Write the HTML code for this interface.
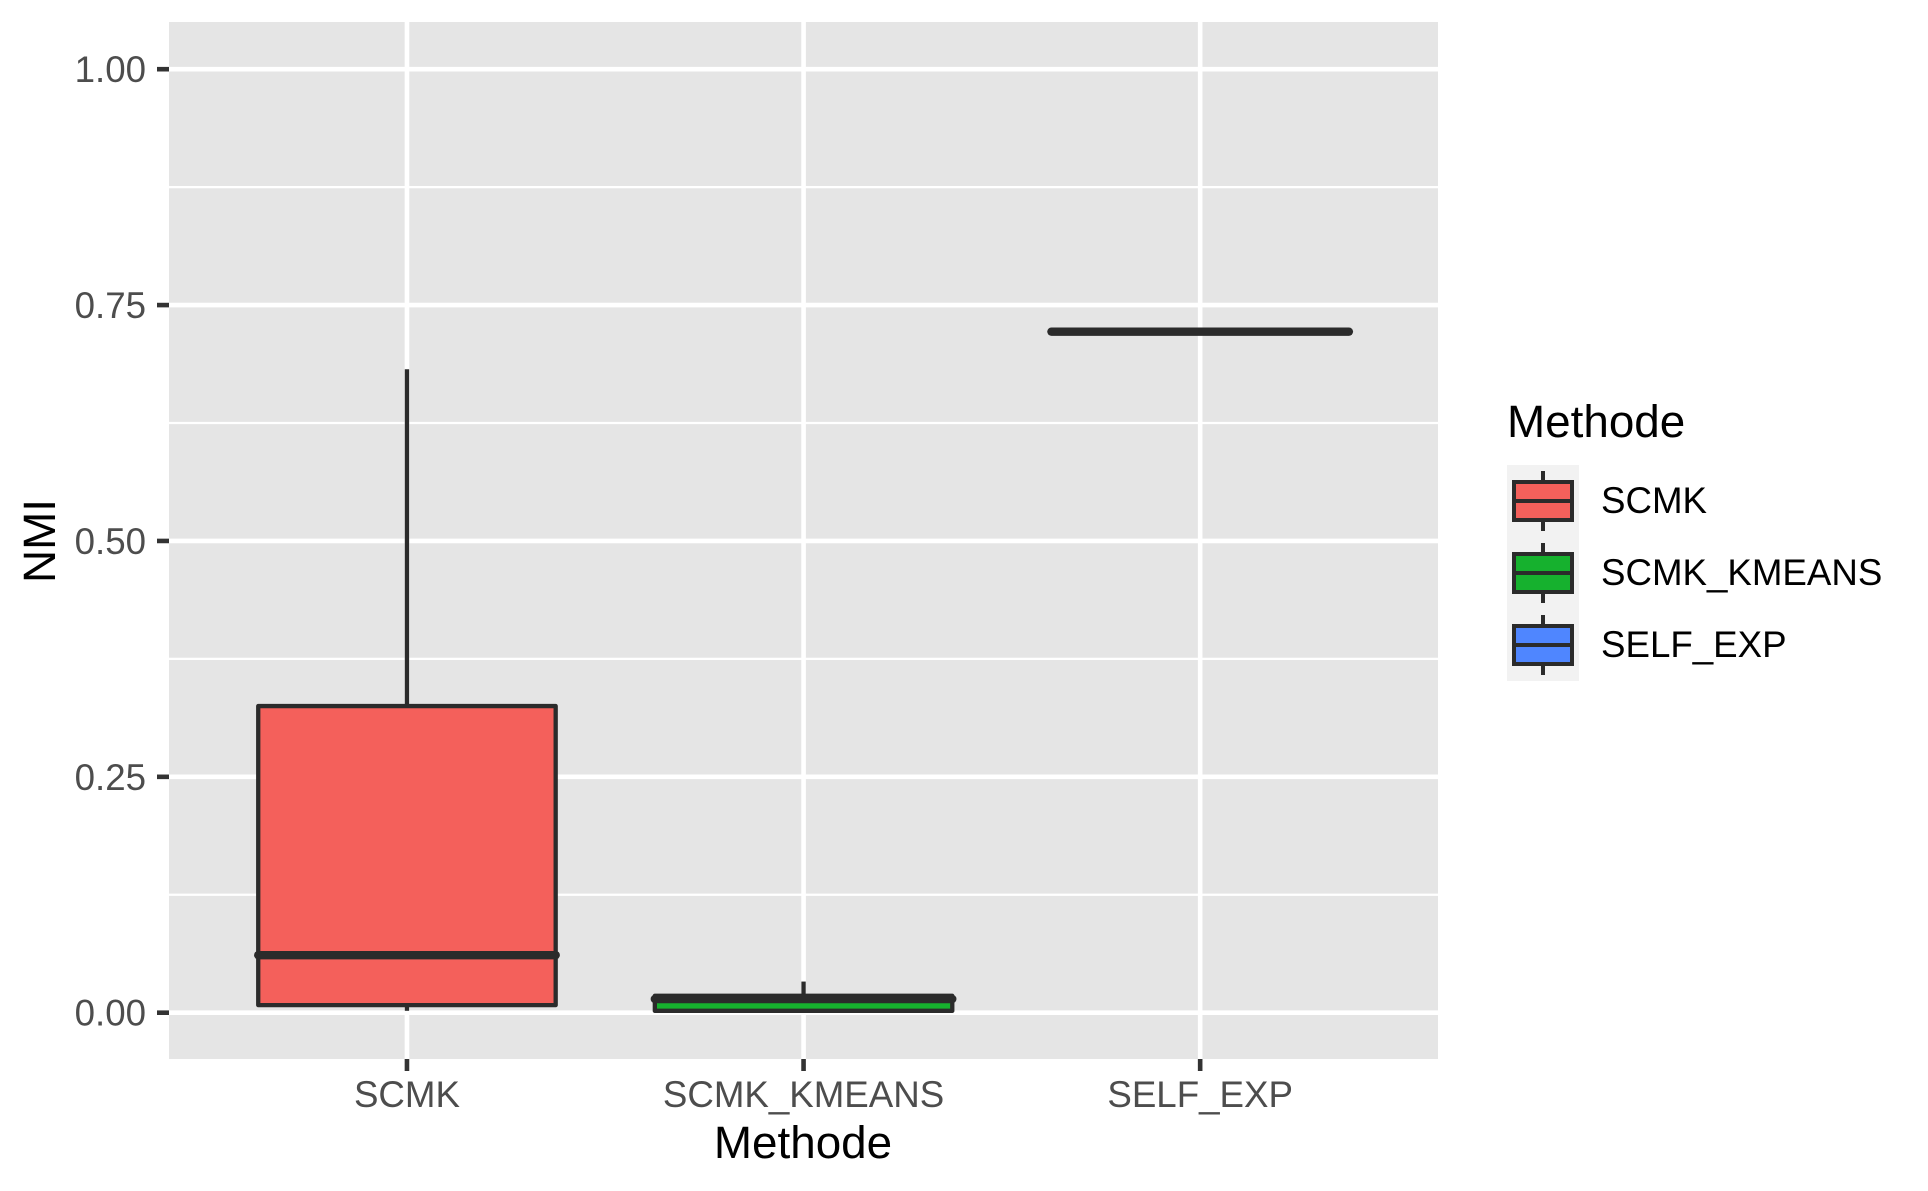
<!DOCTYPE html>
<html><head><meta charset="utf-8"><style>
html,body{margin:0;padding:0;background:#fff}
svg{display:block}
text{font-family:"Liberation Sans",Arial,sans-serif}
</style></head><body>
<svg id="chart" width="1928" height="1191" viewBox="0 0 1928 1191">
<rect x="169" y="22" width="1269" height="1037" fill="#e5e5e5"/>
<g id="grid"></g>
<g id="boxes"></g>
<g id="axes"></g>
<text x="0" y="0" transform="translate(55,541) rotate(-90)" text-anchor="middle" font-size="45.8" fill="#000">NMI</text>
<text x="803" y="1158" text-anchor="middle" font-size="45.8" fill="#000">Methode</text>
<g id="legend">
<text x="1507" y="437" font-size="45.8" fill="#000">Methode</text>
</g>
</svg>
<script>
const categories = ["SCMK", "SCMK_KMEANS", "SELF_EXP"];
const lowerWhisker = [0.002, 0.0, 0.7218];
const q1 = [0.008, 0.002, 0.7218];
const median = [0.061, 0.0145, 0.7218];
const q3 = [0.325, 0.018, 0.7218];
const upperWhisker = [0.682, 0.033, 0.7218];
const yTicks = [0, 0.25, 0.5, 0.75, 1.0];
const yTickLabels = ["0.00", "0.25", "0.50", "0.75", "1.00"];
const fills = ["#F4605B", "#16B12E", "#4F86FF"];

const NS = "http://www.w3.org/2000/svg";
const y0px = 1012.7, pxPerUnit = 943.5;
const yScale = v => y0px - v * pxPerUnit;
const bandStart = 169, bandStep = 396.6;
const xScale = i => bandStart + bandStep * (0.6 + i);
const panelL = 169, panelR = 1438, panelT = 22, panelB = 1059;
const outline = "#2b2b2b";

function mk(tag, attrs, parent) {
  const el = document.createElementNS(NS, tag);
  for (const k in attrs) el.setAttribute(k, attrs[k]);
  parent.appendChild(el);
  return el;
}
const grid = document.getElementById("grid");
const boxes = document.getElementById("boxes");
const axes = document.getElementById("axes");
const legend = document.getElementById("legend");

for (let i = 0; i < yTicks.length - 1; i++) {
  const v = (yTicks[i] + yTicks[i + 1]) / 2;
  const l = mk("line", {x1: panelL, x2: panelR, y1: yScale(v), y2: yScale(v), stroke: "#fff", "stroke-width": 2.3}, grid);
  
  
}
yTicks.forEach((v, i) => {
  const y = yScale(v);
  const g = mk("line", {x1: panelL, x2: panelR, y1: y, y2: y, stroke: "#fff", "stroke-width": 4.6}, grid);
  
  
  const t = mk("line", {x1: 157, x2: 169, y1: y, y2: y, stroke: "#333", "stroke-width": 4.6}, axes);
  
  
  const tx = mk("text", {x: 146, y: y + 13, "text-anchor": "end", "font-size": 36.7, fill: "#4d4d4d"}, axes);
  tx.textContent = yTickLabels[i];
  
  
});
categories.forEach((c, i) => {
  const x = xScale(i);
  const g = mk("line", {x1: x, x2: x, y1: panelT, y2: panelB, stroke: "#fff", "stroke-width": 4.6}, grid);
  
  
  const t = mk("line", {x1: x, x2: x, y1: panelB, y2: panelB + 12, stroke: "#333", "stroke-width": 4.6}, axes);
  
  
  const tx = mk("text", {x: x, y: 1107, "text-anchor": "middle", "font-size": 36.7, fill: "#4d4d4d"}, axes);
  tx.textContent = c;
  
  

  const half = bandStep * 0.375;
  const grp = mk("g", {}, boxes);
  
  
  const wu = mk("line", {x1: x, x2: x, y1: yScale(upperWhisker[i]), y2: yScale(q3[i]), stroke: outline, "stroke-width": 4.3}, grp);
  
  
  const wl = mk("line", {x1: x, x2: x, y1: yScale(q1[i]), y2: yScale(lowerWhisker[i]), stroke: outline, "stroke-width": 4.3}, grp);
  
  
  const top = yScale(q3[i]), bot = yScale(q1[i]);
  const r = mk("rect", {x: x - half, y: top, width: 2 * half, height: Math.max(bot - top, 0.01), fill: fills[i], stroke: outline, "stroke-width": 4.3, "stroke-linejoin": "round"}, grp);
  
  
  const m = mk("line", {x1: x - half, x2: x + half, y1: yScale(median[i]), y2: yScale(median[i]), stroke: outline, "stroke-width": 8.4, "stroke-linecap": "round"}, grp);
  
  
});

categories.forEach((c, i) => {
  const ky = 465 + i * 72;
  const g = mk("g", {}, legend);
  
  
  const bg = mk("rect", {x: 1507, y: ky, width: 72, height: 72, fill: "#f2f2f2"}, g);
  
  
  const w = mk("line", {x1: 1543, x2: 1543, y1: ky + 6, y2: ky + 66, stroke: outline, "stroke-width": 4}, g);
  
  
  const b = mk("rect", {x: 1514, y: ky + 17, width: 58, height: 38, fill: fills[i], stroke: outline, "stroke-width": 4}, g);
  
  
  const m = mk("line", {x1: 1514, x2: 1572, y1: ky + 36, y2: ky + 36, stroke: outline, "stroke-width": 4}, g);
  
  
  const t = mk("text", {x: 1601, y: ky + 48, "font-size": 36.7, fill: "#000"}, g);
  t.textContent = c;
  
  
});
</script>
</body></html>
